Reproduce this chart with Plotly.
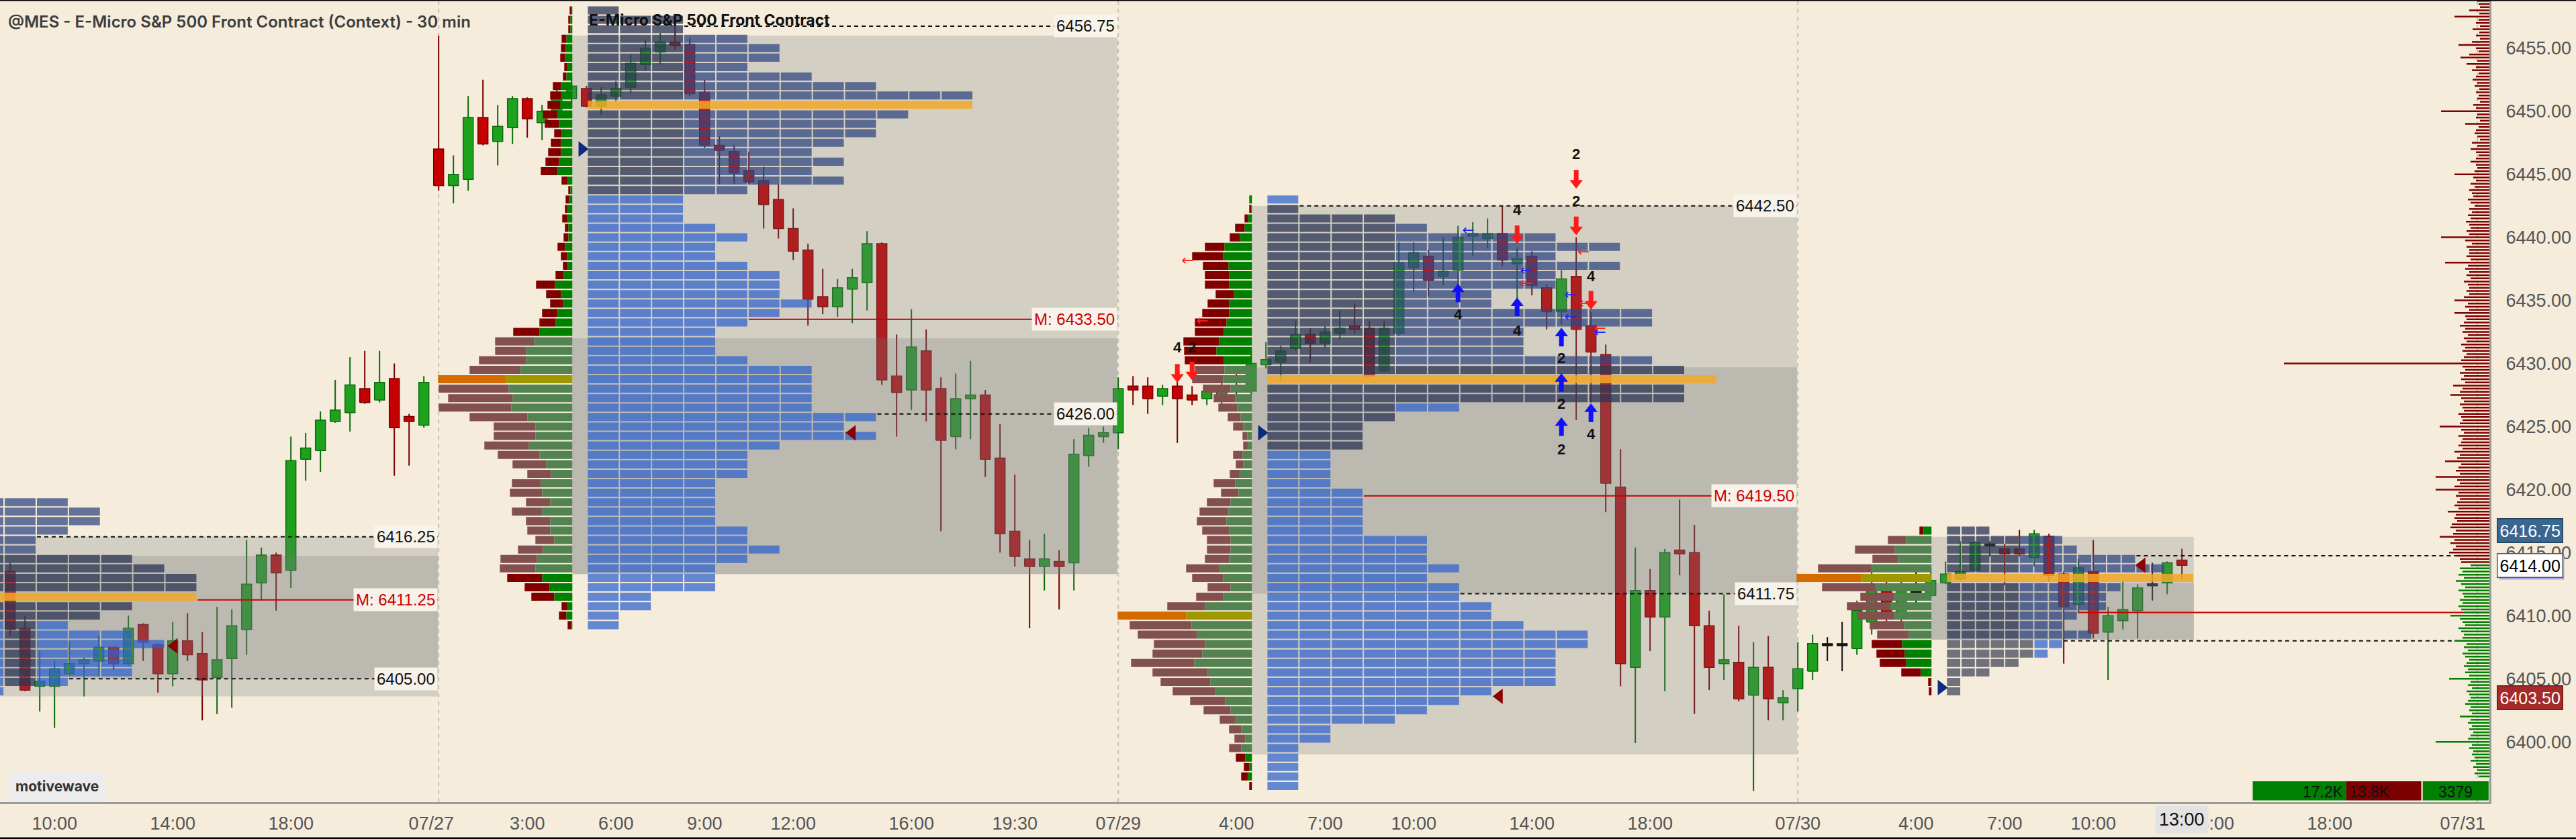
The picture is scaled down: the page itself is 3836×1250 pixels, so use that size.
import plotly.graph_objects as go
from collections import defaultdict

BG = "#f5ecdb"

# ---------------- 30 min price bars, bar index 0..147 ----------------
opens = [
    6413.5, 6409.0, 6404.4, 6404.4, 6405.4, 6406.2, 6406.4, 6407.5, 6406.2, 6409.3,
    6407.7, 6405.4, 6408.0, 6407.0, 6405.1, 6406.6, 6408.9, 6412.6, 6414.8, 6413.6,
    6422.4, 6423.1, 6425.4, 6426.1, 6428.0, 6427.1, 6428.8, 6425.8, 6425.1, 6447.0,
    6444.1, 6444.6, 6449.5, 6447.6, 6448.7, 6451.0, 6449.1, 6450.0, 6451.0, 6451.8,
    6450.4, 6451.2, 6451.9, 6453.7, 6454.7, 6455.5, 6455.3, 6451.5, 6447.3, 6446.8,
    6445.3, 6444.5, 6443.0, 6440.7, 6439.0, 6435.3, 6434.5, 6435.9, 6436.4, 6439.5,
    6429.0, 6427.9, 6431.0, 6428.0, 6424.2, 6427.2, 6427.5, 6422.5, 6416.7, 6414.5,
    6413.9, 6414.3, 6414.2, 6422.7, 6424.2, 6424.5, 6428.2, 6428.2, 6427.4, 6428.2,
    6427.5, 6427.2, 6427.2, 6428.0, 6427.8, 6429.9, 6430.1, 6431.2, 6432.3, 6431.6,
    6432.4, 6433.0, 6432.8, 6429.4, 6432.4, 6437.6, 6438.5, 6436.9, 6437.4, 6440.1,
    6439.9, 6440.3, 6437.9, 6438.5, 6436.0, 6434.1, 6436.9, 6433.0, 6430.7, 6420.2,
    6405.9, 6412.0, 6409.9, 6415.2, 6415.0, 6409.2, 6406.2, 6406.3, 6403.7, 6405.9,
    6403.1, 6404.2, 6405.6, 6407.7, 6407.7, 6407.4, 6409.5, 6412.5, 6409.8, 6411.9,
    6411.6, 6412.6, 6412.9, 6413.6, 6415.6, 6415.3, 6415.3, 6414.6, 6416.3, 6413.3,
    6410.9, 6413.5, 6408.7, 6409.6, 6410.4, 6412.45, 6412.6, 6414.4,
]
highs = [
    6414.2, 6410.0, 6407.2, 6406.5, 6408.0, 6406.7, 6408.4, 6407.6, 6410.0, 6409.4,
    6407.8, 6409.5, 6410.2, 6408.7, 6410.7, 6410.5, 6416.0, 6415.4, 6415.0, 6424.2,
    6424.5, 6426.2, 6428.7, 6430.5, 6431.0, 6431.0, 6430.0, 6426.0, 6429.0, 6456.0,
    6446.5, 6451.2, 6452.5, 6450.5, 6451.2, 6451.1, 6450.5, 6452.0, 6452.7, 6452.0,
    6451.9, 6452.4, 6454.5, 6455.7, 6456.2, 6456.8, 6455.8, 6452.5, 6448.0, 6447.3,
    6446.8, 6445.6, 6444.2, 6442.3, 6439.5, 6437.5, 6436.7, 6437.5, 6440.5, 6439.6,
    6432.3, 6434.3, 6432.7, 6428.9, 6429.2, 6430.2, 6427.9, 6425.2, 6421.2, 6416.0,
    6416.5, 6415.2, 6424.0, 6424.9, 6425.0, 6428.9, 6429.0, 6428.9, 6428.3, 6428.6,
    6428.2, 6428.3, 6429.0, 6429.5, 6431.0, 6431.7, 6431.4, 6433.4, 6432.8, 6433.0,
    6434.2, 6434.8, 6433.4, 6433.4, 6439.6, 6439.6, 6439.0, 6440.0, 6440.9, 6441.2,
    6441.5, 6442.5, 6439.2, 6438.9, 6436.3, 6437.4, 6440.0, 6434.1, 6431.5, 6423.2,
    6415.4, 6413.7, 6415.3, 6419.2, 6417.2, 6410.4, 6411.7, 6409.2, 6407.9, 6408.4,
    6404.1, 6407.9, 6408.5, 6408.3, 6409.5, 6411.2, 6413.5, 6413.0, 6413.3, 6413.8,
    6413.8, 6414.3, 6415.9, 6415.9, 6415.9, 6415.7, 6416.8, 6416.8, 6416.5, 6413.5,
    6414.5, 6416.0, 6410.7, 6412.7, 6412.5, 6414.2, 6414.3, 6415.3,
]
lows = [
    6408.4, 6404.0, 6402.4, 6401.1, 6405.2, 6403.6, 6405.2, 6405.7, 6406.1, 6406.4,
    6403.9, 6404.4, 6406.4, 6401.7, 6402.2, 6402.7, 6406.9, 6411.2, 6410.4, 6412.2,
    6420.7, 6421.4, 6425.3, 6424.6, 6426.8, 6426.9, 6421.1, 6421.9, 6424.9, 6443.7,
    6442.7, 6443.7, 6447.3, 6445.7, 6447.4, 6447.9, 6447.7, 6449.5, 6450.3, 6450.3,
    6449.7, 6450.8, 6451.4, 6453.2, 6453.7, 6454.9, 6451.2, 6447.1, 6444.2, 6444.2,
    6444.2, 6440.7, 6439.9, 6438.2, 6433.0, 6433.9, 6433.7, 6433.2, 6434.2, 6428.3,
    6424.2, 6426.3, 6425.4, 6416.7, 6423.2, 6424.0, 6421.0, 6415.0, 6413.9, 6409.0,
    6412.0, 6410.5, 6412.0, 6421.8, 6423.7, 6423.2, 6426.7, 6426.0, 6426.7, 6423.7,
    6426.7, 6426.7, 6426.5, 6427.0, 6427.5, 6429.6, 6428.6, 6431.0, 6430.1, 6431.2,
    6431.9, 6432.4, 6428.9, 6429.3, 6432.2, 6435.7, 6435.3, 6436.2, 6436.2, 6438.5,
    6439.1, 6437.7, 6435.1, 6435.4, 6432.7, 6433.1, 6425.5, 6426.9, 6418.2, 6404.4,
    6399.9, 6407.2, 6404.0, 6413.2, 6402.2, 6404.1, 6404.9, 6403.2, 6396.1, 6401.7,
    6401.7, 6402.4, 6404.9, 6406.4, 6405.6, 6406.9, 6408.5, 6409.0, 6409.3, 6410.8,
    6411.4, 6412.5, 6412.8, 6413.5, 6414.7, 6412.4, 6414.7, 6413.9, 6412.7, 6406.2,
    6410.2, 6408.2, 6404.9, 6408.9, 6408.2, 6411.2, 6411.7, 6412.9,
]
closes = [
    6408.9, 6404.1, 6404.8, 6405.8, 6406.2, 6406.5, 6407.5, 6406.2, 6409.0, 6407.9,
    6405.4, 6408.0, 6406.9, 6404.9, 6406.5, 6409.2, 6412.5, 6414.8, 6413.4, 6422.3,
    6423.3, 6425.5, 6426.3, 6428.3, 6426.9, 6428.5, 6424.9, 6425.4, 6428.5, 6444.1,
    6445.0, 6449.5, 6447.4, 6448.8, 6451.0, 6449.4, 6450.0, 6451.5, 6452.0, 6450.4,
    6451.3, 6451.8, 6453.8, 6455.0, 6455.5, 6455.2, 6451.4, 6447.3, 6446.9, 6445.1,
    6444.4, 6442.6, 6440.7, 6438.9, 6435.1, 6434.5, 6436.0, 6436.8, 6439.5, 6428.7,
    6427.7, 6431.3, 6427.9, 6423.9, 6427.2, 6427.5, 6422.4, 6416.5, 6414.7, 6413.9,
    6414.5, 6413.9, 6422.8, 6424.3, 6424.5, 6428.0, 6427.9, 6427.2, 6428.0, 6427.2,
    6427.1, 6427.8, 6428.0, 6427.8, 6430.0, 6430.3, 6431.0, 6432.3, 6431.6, 6432.5,
    6432.8, 6432.7, 6429.0, 6432.8, 6438.0, 6438.8, 6436.6, 6437.3, 6440.0, 6440.3,
    6440.3, 6438.2, 6438.3, 6436.2, 6434.1, 6436.7, 6432.7, 6430.9, 6420.5, 6406.2,
    6412.0, 6409.9, 6415.0, 6414.9, 6409.2, 6405.9, 6406.5, 6403.4, 6405.9, 6403.4,
    6403.5, 6405.8, 6407.8, 6407.7, 6407.7, 6410.4, 6412.5, 6409.8, 6412.3, 6411.9,
    6412.8, 6413.3, 6413.5, 6415.8, 6415.6, 6414.9, 6414.9, 6416.5, 6413.2, 6410.7,
    6413.8, 6408.6, 6410.0, 6410.5, 6412.2, 6412.45, 6414.2, 6414.0,
]

# ---------------- axes ----------------
tick_bars = [3, 11, 19, 28.5, 35, 41, 47, 53, 61, 68, 75, 83, 89, 95, 103, 111,
             121, 129, 135, 141, 149, 157, 166]
tick_labels = ["10:00", "14:00", "18:00", "07/27", "3:00", "6:00", "9:00", "12:00",
               "16:00", "19:30", "07/29", "4:00", "7:00", "10:00", "14:00", "18:00",
               "07/30", "4:00", "7:00", "10:00", "14:00", "18:00", "07/31"]
current_bar, current_label = 147, "13:00"
separators = [29, 75, 121, 167]
price_ticks = [6400, 6405, 6410, 6415, 6420, 6425, 6430, 6435, 6440, 6445, 6450, 6455]

# ---------------- session profiles (rows of 0.75 pt, from the top row down) ----------------
a_top = 6419.0
a_tpo = [5, 6, 6, 5, 4, 4, 7, 8, 9, 9, 9, 7, 6, 5, 7, 8, 7, 7, 7, 5, 3]
a_poc = 10

b_top = 6458.0
b_tpo = [1, 3, 3, 5, 6, 6, 5, 7, 9, 12,
         12, 10, 9, 9, 8, 7, 8, 7, 8, 5,
         3, 3, 3, 4, 5, 4, 4, 5, 6, 6,
         6, 7, 6, 5, 4, 4, 4, 5, 7, 7,
         7, 7, 7, 9, 8, 9, 6, 5, 5, 5,
         4, 4, 4, 4, 4, 5, 5, 6, 5, 4,
         4, 4, 2, 2, 1, 1]
b_poc = 10
b_sell = [3, 3, 3, 7, 7, 7, 5, 5, 12, 16,
          19, 22, 21, 11, 15, 19, 20, 25, 9, 3,
          5, 4, 8, 5, 7, 11, 9, 7, 12, 28,
          22, 19, 23, 24, 39, 58, 46, 70, 75, 101,
          104, 96, 108, 86, 62, 62, 66, 62, 50, 35,
          43, 48, 36, 45, 36, 34, 28, 37, 54, 53,
          52, 37, 34, 9, 11, 5]
b_buy = [1, 3, 3, 9, 10, 11, 7, 9, 17, 17,
         18, 22, 20, 16, 17, 17, 20, 22, 7, 3,
         5, 7, 7, 6, 6, 11, 8, 7, 13, 26,
         17, 14, 22, 25, 49, 57, 69, 69, 78, 99,
         95, 89, 91, 67, 55, 55, 65, 49, 39, 32,
         47, 45, 33, 45, 33, 33, 27, 44, 53, 55,
         45, 34, 27, 7, 9, 2]
b_value_rows = (35, 59)

c_top = 6443.0
c_tpo = [1, 1, 4, 5, 9, 11, 9, 11, 9, 9,
         7, 7, 12, 12, 8, 8, 8, 12, 13, 14,
         13, 13, 6, 4, 3, 3, 3, 2, 2, 2,
         2, 3, 3, 3, 3, 3, 5, 5, 5, 6,
         5, 6, 6, 7, 7, 8, 10, 10, 9, 9,
         9, 9, 7, 6, 5, 4, 2, 2, 1, 1,
         1, 1, 1]
c_poc = 19
c_sell = [0, 3, 5, 14, 15, 29, 46, 38, 36, 36,
          27, 32, 40, 47, 43, 53, 48, 58, 44, 46,
          41, 32, 28, 19, 15, 7, 7, 14, 11, 15,
          32, 26, 35, 43, 44, 40, 35, 35, 36, 50,
          46, 34, 40, 56, 102, 92, 88, 76, 74, 94,
          82, 74, 64, 52, 40, 24, 18, 16, 18, 14,
          8, 10, 4]
c_buy = [4, 1, 6, 11, 18, 41, 43, 35, 34, 34,
         27, 34, 34, 38, 42, 49, 53, 42, 41, 43,
         32, 25, 22, 17, 13, 7, 6, 14, 13, 18,
         25, 20, 32, 35, 38, 34, 32, 32, 34, 48,
         43, 32, 43, 70, 98, 90, 82, 70, 74, 86,
         66, 62, 54, 40, 32, 24, 16, 10, 16, 10,
         4, 6, 0]
c_value_rows = (18, 58)

d_top = 6416.75
d_tpo = [3, 8, 9, 13, 15, 17, 12, 11, 11, 9, 8, 10, 8, 7, 5, 3, 1, 1]
d_poc = 5
d_sell = [6, 27, 59, 38, 80, 96, 79, 51, 64, 56, 51, 47, 45, 42, 39, 29, 4, 4]
d_buy = [12, 38, 55, 50, 89, 105, 84, 55, 62, 55, 41, 34, 44, 40, 38, 16, 1, 0]
d_value_rows = (1, 11)

# value area boxes: (low, high, inner low, inner high)
a_box = (6403.6, 6416.25, 6405.0, 6414.75)
b_box = (6413.3, 6456.0, 6413.3, 6432.0)
c_box = (6399.0, 6442.5, 6411.75, 6429.7)
d_box = (6408.1, 6416.25, 6408.1, 6412.6)

# levels: dashed high/low lines and median
a_levels, a_median = [6416.25, 6405.00], 6411.25
b_levels, b_median = [6456.75, 6426.00], 6433.50
c_levels, c_median = [6442.50, 6411.75], 6419.50
d_levels, d_median = [6414.75, 6408.00], 6410.25

# ---------------- volume at price (right edge), 0.25 pt steps ----------------
hist_sell_top = 6458.75
hist_sell = [18, 16, 14, 30, 15, 52, 16, 20, 14, 25, 15, 20,
             14, 26, 46, 20, 16, 30, 43, 18, 34, 20, 26, 16,
             20, 25, 18, 22, 15, 20, 16, 18, 14, 24, 20, 72,
             18, 20, 14, 36, 16, 20, 22, 18, 14, 26, 18, 28,
             20, 16, 20, 28, 20, 18, 22, 52,
             24, 20, 28, 22, 30, 26, 24, 32, 28, 22, 30, 26,
             32, 28, 35, 30, 28, 34, 30, 72, 36, 26, 34, 30,
             30, 34, 28, 66, 32, 36, 30, 34, 28, 38, 32, 30,
             34, 30, 38, 52, 32, 36, 30, 52, 36, 34, 38, 44,
             36, 40, 32, 38, 34, 42, 36, 40, 34, 38, 42,
             306,
             40, 36, 44, 38, 42, 36, 54, 40, 44, 58, 42, 38,
             44, 40, 38, 46, 42, 40, 44, 74, 42, 38, 46, 40,
             42, 46, 40, 52, 44, 48, 66, 42, 46, 50, 44, 80,
             48, 44, 52, 80, 46, 50, 44, 48, 52, 46, 62, 50,
             52, 48, 56, 58, 50, 54, 74, 52, 58, 50, 54, 60, 48, 44, 42]
hist_buy_top = 6414.0
hist_buy = [28, 44, 40, 46, 38, 50, 42, 36, 46, 40, 38, 44,
            40, 46, 42, 38, 58, 44, 40, 36, 46, 42, 38, 40,
            52, 34, 38, 32, 40, 36, 30, 34, 38, 32, 36, 30,
            60, 28, 32, 26, 34, 30, 28, 32, 36, 28, 30, 26,
            44, 28, 32, 26, 30, 24, 28, 32, 80, 26, 30, 24,
            26, 22, 28, 20, 24, 18, 22, 16]

buy_total, sell_total, delta_total = 17200, 13800, 3379

# signals in the 07/29 session
red_down = [(79, 6429.2), (80, 6429.4), (102, 6440.2), (106, 6444.6), (106, 6440.9), (107, 6435.0)]
blue_up = [(98, 6435.6), (102, 6434.5), (105, 6432.1), (105, 6428.5), (107, 6426.1), (105, 6425.0)]
counts = [(106, 6446.5, "2"), (106, 6442.75, "2"), (102, 6442.1, "4"), (107, 6436.8, "4"),
          (98, 6433.8, "4"), (102, 6432.5, "4"), (105, 6430.3, "2"), (105, 6426.7, "2"),
          (107, 6424.3, "4"), (105, 6423.1, "2"), (79, 6431.15, "4"), (80, 6431.15, "2")]
small_red = [(79.7, 6438.1), (80.7, 6433.3), (106.5, 6438.8), (102.6, 6436.3), (106.6, 6434.7), (107.6, 6432.7)]
small_blue = [(98.7, 6440.5), (102.6, 6437.3), (105.6, 6435.4), (105.6, 6433.6), (107.6, 6432.4)]
navy_marks = [(38.7, 6447.0), (84.7, 6424.5), (130.7, 6404.3)]
maroon_marks = [(11.1, 6407.6), (57.0, 6424.5), (100.8, 6403.6), (144.3, 6414.0)]

tag_high, tag_last, tag_low = 6416.75, 6414.00, 6403.50

# ---------------- geometry ----------------
BAR_PX = 22.0
X0, X1 = -0.69, 167.81
Y0, Y1 = 6395.22, 6458.82
ROW, HALF = 0.75, 0.32
GAP = 2 / BAR_PX
UNIT = 1 / BAR_PX          # bar width per volume unit

sessions = [
    dict(start=-17, top=a_top, tpo=a_tpo, poc=a_poc, width=2.177, sell=None, buy=None, va=None,
         box=a_box, box_end=28.95, end=28.95, levels=a_levels, median=a_median, labels=True,
         zones=[(0, 5, 0, 99, "mid"), (6, 12, 0, 99, "dark"), (13, 20, 3, 3, "dark")]),
    dict(start=29, top=b_top, tpo=b_tpo, poc=b_poc, width=2.177, sell=b_sell, buy=b_buy, va=b_value_rows,
         box=b_box, box_end=74.95, end=74.95, levels=b_levels, median=b_median, labels=True,
         zones=[(0, 19, 0, 2, "dark"), (0, 19, 3, 99, "mid")]),
    dict(start=75, top=c_top, tpo=c_tpo, poc=c_poc, width=2.177, sell=c_sell, buy=c_buy, va=c_value_rows,
         box=c_box, box_end=120.95, end=120.95, levels=c_levels, median=c_median, labels=True,
         zones=[(1, 26, 0, 3, "dark"), (18, 21, 4, 99, "dark"), (2, 17, 4, 99, "mid")]),
    dict(start=121, top=d_top, tpo=d_tpo, poc=d_poc, width=0.986, sell=d_sell, buy=d_buy, va=d_value_rows,
         box=d_box, box_end=147.8, end=X1, levels=d_levels, median=d_median, labels=False,
         zones=[(0, 11, 0, 4, "dark"), (12, 17, 0, 5, "gray"), (0, 11, 5, 99, "mid")]),
]

BLOCK_COLORS = {"normal": "rgba(45,95,205,0.72)", "mid": "rgba(48,70,130,0.74)",
                "dark": "rgba(44,54,86,0.76)", "gray": "rgba(66,70,90,0.74)"}
DELTA_COLORS = {"sell": "#800000", "buy": "#008000", "sell_va": "#835050", "buy_va": "#528350",
                "sell_poc": "#d46a00", "buy_poc": "#a09800"}

fig = go.Figure()


def new_store():
    return ([], [])


def rect(store, x0, x1, y0, y1):
    store[0].extend([x0, x1, x1, x0, x0, None])
    store[1].extend([y0, y0, y1, y1, y0, None])


def add_fill(store, color, line_color=None, line_width=0):
    fig.add_trace(go.Scatter(x=store[0], y=store[1], mode="lines", fill="toself", fillcolor=color,
                             line=dict(color=line_color or color, width=line_width), hoverinfo="skip"))


def add_lines(store, color, width, dash="solid"):
    fig.add_trace(go.Scatter(x=store[0], y=store[1], mode="lines",
                             line=dict(color=color, width=width, dash=dash), hoverinfo="skip"))


# ---- candles ----
CANDLE = {"up": ("#1ea21e", "#0c6a0c"), "down": ("#c40000", "#780000"), "flat": ("#111111", "#111111")}
wicks = defaultdict(new_store)
bodies = defaultdict(new_store)
for i, (o, h, l, c) in enumerate(zip(opens, highs, lows, closes)):
    kind = "flat" if abs(c - o) < 0.05 else ("up" if c > o else "down")
    wicks[kind][0].extend([i, i, None])
    wicks[kind][1].extend([l, h, None])
    lo, hi = min(o, c), max(o, c)
    if kind == "flat":
        lo, hi = o - 0.08, o + 0.08
    rect(bodies[kind], i - 0.34, i + 0.34, lo, hi)
for kind in ("up", "down", "flat"):
    add_lines(wicks[kind], CANDLE[kind][1], 2)
for kind in ("up", "down", "flat"):
    add_fill(bodies[kind], CANDLE[kind][0], CANDLE[kind][1], 1.5)

# ---- value area boxes ----
outer, inner = new_store(), new_store()
for s in sessions:
    lo, hi, ilo, ihi = s["box"]
    x0 = s["start"] + 9.05
    rect(outer, x0, s["box_end"], lo, hi)
    rect(inner, x0, s["box_end"], ilo, ihi)
add_fill(outer, "rgba(117,120,123,0.25)")
add_fill(inner, "rgba(117,120,123,0.25)")

# ---- bid/ask profiles ----
delta = defaultdict(new_store)
for s in sessions:
    if s["sell"] is None:
        continue
    anchor = s["start"] + 9.05
    totals = [a + b for a, b in zip(s["sell"], s["buy"])]
    poc = totals.index(max(totals))
    v0, v1 = s["va"]
    for k, (sv, bv) in enumerate(zip(s["sell"], s["buy"])):
        y = s["top"] - k * ROW
        suffix = "_poc" if k == poc else ("_va" if v0 <= k <= v1 else "")
        xb = anchor - bv * UNIT
        xs = xb - sv * UNIT
        if bv > 0:
            rect(delta["buy" + suffix], xb, anchor, y - HALF, y + HALF)
        if sv > 0:
            rect(delta["sell" + suffix], xs, xb, y - HALF, y + HALF)
for key, store in delta.items():
    add_fill(store, DELTA_COLORS[key])

# ---- block profiles ----
blocks = defaultdict(new_store)
poc_band = new_store()


def zone_kind(zones, k, j):
    for k0, k1, j0, j1, kind in zones:
        if k0 <= k <= k1 and j0 <= j <= j1:
            return kind
    return "normal"


for s in sessions:
    s0 = s["start"] + 10.1
    w = s["width"]
    wmax = max(s["tpo"])
    for k, n in enumerate(s["tpo"]):
        y = s["top"] - k * ROW
        if k == s["poc"]:
            rect(poc_band, s0, s0 + wmax * w - GAP, y - HALF, y + HALF)
            continue
        for j in range(n):
            rect(blocks[zone_kind(s["zones"], k, j)], s0 + j * w, s0 + (j + 1) * w - GAP, y - HALF, y + HALF)
for kind, store in blocks.items():
    add_fill(store, BLOCK_COLORS[kind])
add_fill(poc_band, "rgba(242,168,40,0.85)")


# ---- levels ----
def row_end(s, p):
    k = round((s["top"] - p) / ROW)
    return s["start"] + 10.1 + s["tpo"][k] * s["width"]


dashed, medians = new_store(), new_store()
for s in sessions:
    for p in s["levels"]:
        dashed[0].extend([row_end(s, p), s["end"], None])
        dashed[1].extend([p, p, None])
    p = s["median"]
    medians[0].extend([row_end(s, p), s["end"], None])
    medians[1].extend([p, p, None])
add_lines(dashed, "#111111", 2, "6px,5px")
add_lines(medians, "#cc0000", 2)

# ---- volume at price ----
hs, hb = new_store(), new_store()
for i, v in enumerate(hist_sell):
    p = hist_sell_top - 0.25 * i
    hs[0].extend([X1 - v * UNIT, X1, None])
    hs[1].extend([p, p, None])
for i, v in enumerate(hist_buy):
    p = hist_buy_top - 0.25 * i
    hb[0].extend([X1 - v * UNIT, X1, None])
    hb[1].extend([p, p, None])
add_lines(hs, "#800000", 2.5)
add_lines(hb, "#008000", 2.5)

# ---- markers ----
fig.add_trace(go.Scatter(x=[p[0] for p in navy_marks], y=[p[1] for p in navy_marks], mode="markers",
                         marker=dict(symbol="triangle-right", size=20, color="#0b2a80"), hoverinfo="skip"))
fig.add_trace(go.Scatter(x=[p[0] for p in maroon_marks], y=[p[1] for p in maroon_marks], mode="markers",
                         marker=dict(symbol="triangle-left", size=20, color="#8b0000"), hoverinfo="skip"))
# arrows: stem + head
fig.add_trace(go.Scatter(x=[p[0] for p in red_down], y=[p[1] + 0.3 for p in red_down], mode="markers",
                         marker=dict(symbol="line-ns", size=12, line=dict(color="#ff1a1a", width=7)),
                         hoverinfo="skip"))
fig.add_trace(go.Scatter(x=[p[0] for p in red_down], y=[p[1] - 0.28 for p in red_down], mode="markers",
                         marker=dict(symbol="triangle-down", size=17, color="#ff1a1a"), hoverinfo="skip"))
fig.add_trace(go.Scatter(x=[p[0] for p in blue_up], y=[p[1] - 0.3 for p in blue_up], mode="markers",
                         marker=dict(symbol="line-ns", size=12, line=dict(color="#1010ff", width=7)),
                         hoverinfo="skip"))
fig.add_trace(go.Scatter(x=[p[0] for p in blue_up], y=[p[1] + 0.28 for p in blue_up], mode="markers",
                         marker=dict(symbol="triangle-up", size=17, color="#1010ff"), hoverinfo="skip"))
fig.add_trace(go.Scatter(x=[p[0] for p in small_red], y=[p[1] for p in small_red], mode="text",
                         text=["←"] * len(small_red),
                         textfont=dict(family="DejaVu Sans", size=22, color="#ff2020"), hoverinfo="skip"))
fig.add_trace(go.Scatter(x=[p[0] for p in small_blue], y=[p[1] for p in small_blue], mode="text",
                         text=["←"] * len(small_blue),
                         textfont=dict(family="DejaVu Sans", size=22, color="#2020ff"), hoverinfo="skip"))
fig.add_trace(go.Scatter(x=[p[0] for p in counts], y=[p[1] for p in counts], mode="text",
                         text=[p[2] for p in counts],
                         textfont=dict(family="Liberation Sans", size=22, color="#111111", weight="bold"),
                         hoverinfo="skip"))

# price tag pointers just outside the plot
tags = [(tag_high, "#3a6790", "#24425e", "white"), (tag_last, "white", "#555555", "black"),
        (tag_low, "#a52a2a", "#6e1a1a", "white")]
fig.add_trace(go.Scatter(x=[X1 + 0.5] * 3, y=[t[0] for t in tags], mode="markers", cliponaxis=False,
                         marker=dict(symbol="triangle-left", size=22, color=[t[1] for t in tags],
                                     line=dict(color=[t[2] for t in tags], width=1)),
                         hoverinfo="skip"))

# ---- shapes ----
shapes = []
for b in separators:
    shapes.append(dict(type="line", xref="x", yref="paper", x0=b, x1=b, y0=0, y1=1, layer="below",
                       line=dict(color="#c9c2b4", width=2, dash="6px,6px")))
# bottom-right volume totals
KBAR = 0.368 / 1000
d_left, d_right = 163.3, X1 - 0.05
r_right = 163.2
r_left = r_right - sell_total * KBAR
g_left = r_left - buy_total * KBAR
for x0, x1, col in [(g_left, r_left, "#008000"), (r_left, r_right, "#7d0000"), (d_left, d_right, "#008000")]:
    shapes.append(dict(type="rect", xref="x", yref="paper", x0=x0, x1=x1, y0=0.002, y1=31 / 1195,
                       fillcolor=col, line=dict(width=0), layer="above"))
# frame lines
shapes.append(dict(type="line", xref="paper", yref="paper", x0=0, x1=3836 / 3707, y0=1, y1=1,
                   line=dict(color="black", width=3)))
shapes.append(dict(type="line", xref="paper", yref="paper", x0=0, x1=3836 / 3707, y0=-54 / 1195, y1=-54 / 1195,
                   line=dict(color="black", width=3)))

# ---- annotations ----
ann = []
LBL = dict(family="Liberation Sans", size=24, color="#111111")
for s in sessions:
    if not s["labels"]:
        continue
    for p in s["levels"]:
        ann.append(dict(x=s["end"], y=p, xref="x", yref="y", text=f"{p:.2f}", showarrow=False, xanchor="right",
                        font=LBL, bgcolor="rgba(249,244,235,0.97)", borderpad=3))
    p = s["median"]
    ann.append(dict(x=s["end"], y=p, xref="x", yref="y", text=f"M: {p:.2f}", showarrow=False, xanchor="right",
                    font=dict(family="Liberation Sans", size=24, color="#cc0000"),
                    bgcolor="rgba(249,244,235,0.97)", borderpad=3))

ann.append(dict(x=0.0027, y=1 - 33 / 1195, xref="paper", yref="paper", xanchor="left", yanchor="middle",
                text="@MES - E-Micro S&P 500 Front Contract (Context) - 30 min", showarrow=False,
                font=dict(family="Inter", size=24, color="#3d3d3d", weight=600)))
ann.append(dict(x=sessions[1]["start"] + 10.1, y=6457.2, xref="x", yref="y", xanchor="left", yanchor="middle",
                text="E-Micro S&P 500 Front Contract", showarrow=False,
                font=dict(family="Inter", size=23, color="#111111", weight=700)))
ann.append(dict(x=12 / 3707, y=24 / 1195, xref="paper", yref="paper", xanchor="left", yanchor="middle",
                text="motivewave", showarrow=False, bgcolor="#ececec", borderpad=10,
                font=dict(family="Inter", size=21, color="#333333", weight=700)))
# current bar time
ann.append(dict(x=current_bar, y=0, xref="x", yref="paper", yanchor="top", yshift=-5, text=current_label,
                showarrow=False, bgcolor="#e3e3e3", borderpad=5,
                font=dict(family="Liberation Sans", size=27, color="#111111")))
# volume totals text
VT = dict(family="Liberation Sans", size=23, color="#111111")
ann.append(dict(x=r_left - 0.1, y=15.5 / 1195, xref="x", yref="paper", xanchor="right", yanchor="middle",
                text=f"{buy_total / 1000:.1f}K", showarrow=False, font=VT))
ann.append(dict(x=r_left + 0.1, y=15.5 / 1195, xref="x", yref="paper", xanchor="left", yanchor="middle",
                text=f"{sell_total / 1000:.1f}K", showarrow=False, font=VT))
ann.append(dict(x=(d_left + d_right) / 2, y=15.5 / 1195, xref="x", yref="paper", xanchor="center",
                yanchor="middle", text=str(delta_total), showarrow=False, font=VT))
# price tags on the axis
ann.append(dict(x=1, y=tag_last, xref="paper", yref="y", xanchor="left", xshift=14, yshift=-4,
                text=f"{tag_last:.2f}", showarrow=False, bgcolor="#a9a7de", borderpad=3,
                font=dict(family="Liberation Sans", size=25, color="#a9a7de")))
for p, bg, border, fg in tags:
    ann.append(dict(x=1, y=p, xref="paper", yref="y", xanchor="left", xshift=11, text=f"{p:.2f}",
                    showarrow=False, bgcolor=bg, bordercolor=border, borderwidth=1.5, borderpad=3,
                    font=dict(family="Liberation Sans", size=25, color=fg)))

AX = dict(showgrid=False, zeroline=False, showline=True, linecolor="#9b9b9b", linewidth=3,
          tickmode="array", ticks="", tickfont=dict(family="Liberation Sans", size=27, color="#555555"))
fig.update_layout(
    width=3836, height=1250, autosize=False,
    margin=dict(l=0, r=129, t=0, b=55, pad=0),
    paper_bgcolor=BG, plot_bgcolor=BG,
    showlegend=False, hovermode=False,
    xaxis=dict(range=[X0, X1], tickvals=tick_bars, ticktext=tick_labels, ticklabelstandoff=6, **AX),
    yaxis=dict(range=[Y0, Y1], side="right", tickvals=price_ticks,
               ticktext=[f"{p:.2f}" for p in price_ticks], ticklabelstandoff=16, **AX),
    shapes=shapes,
    annotations=ann,
)

fig.write_html("out.html", config={"displayModeBar": False},
               post_script="document.body.style.margin='0';document.body.style.overflow='hidden';")
